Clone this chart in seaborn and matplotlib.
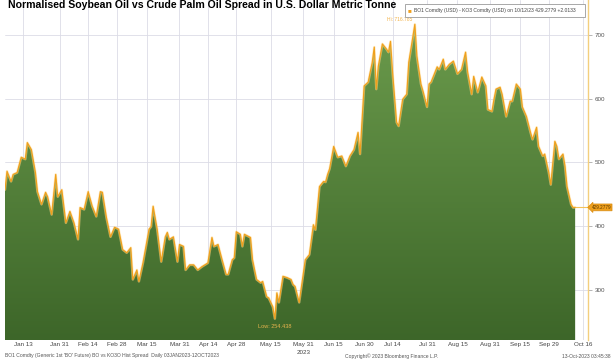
import numpy as np
import pandas as pd
import matplotlib
matplotlib.use("Agg")
import matplotlib.pyplot as plt
import matplotlib.dates as mdates
from matplotlib.colors import LinearSegmentedColormap
from matplotlib.patches import Rectangle
import seaborn as sns

# ---------------- data ----------------
dates = ["2023-01-04", "2023-01-05", "2023-01-07", "2023-01-08", "2023-01-10", "2023-01-12",
         "2023-01-14", "2023-01-15", "2023-01-17", "2023-01-19", "2023-01-20", "2023-01-22",
         "2023-01-24", "2023-01-25", "2023-01-27", "2023-01-29", "2023-01-30", "2023-02-01",
         "2023-02-03", "2023-02-05", "2023-02-07", "2023-02-09", "2023-02-10", "2023-02-12",
         "2023-02-14", "2023-02-16", "2023-02-18", "2023-02-20", "2023-02-21", "2023-02-23",
         "2023-02-25", "2023-02-27", "2023-03-01", "2023-03-03", "2023-03-05", "2023-03-07",
         "2023-03-08", "2023-03-10", "2023-03-11", "2023-03-13", "2023-03-16", "2023-03-17",
         "2023-03-18", "2023-03-20", "2023-03-22", "2023-03-24", "2023-03-25", "2023-03-26",
         "2023-03-28", "2023-03-30", "2023-03-31", "2023-04-02", "2023-04-03", "2023-04-05",
         "2023-04-07", "2023-04-09", "2023-04-11", "2023-04-14", "2023-04-16", "2023-04-17",
         "2023-04-19", "2023-04-21", "2023-04-23", "2023-04-24", "2023-04-26", "2023-04-27",
         "2023-04-28", "2023-04-30", "2023-05-01", "2023-05-02", "2023-05-05", "2023-05-06",
         "2023-05-08", "2023-05-10", "2023-05-11", "2023-05-13", "2023-05-14", "2023-05-16",
         "2023-05-17", "2023-05-18", "2023-05-19", "2023-05-21", "2023-05-23", "2023-05-25",
         "2023-05-26", "2023-05-27", "2023-05-29", "2023-05-31", "2023-06-01", "2023-06-03",
         "2023-06-05", "2023-06-06", "2023-06-08", "2023-06-10", "2023-06-11", "2023-06-12",
         "2023-06-13", "2023-06-15", "2023-06-17", "2023-06-19", "2023-06-21", "2023-06-23",
         "2023-06-25", "2023-06-27", "2023-06-28", "2023-06-29", "2023-06-30", "2023-07-02",
         "2023-07-04", "2023-07-05", "2023-07-06", "2023-07-07", "2023-07-09", "2023-07-11",
         "2023-07-12", "2023-07-13", "2023-07-14", "2023-07-16", "2023-07-17", "2023-07-19",
         "2023-07-21", "2023-07-22", "2023-07-25", "2023-07-26", "2023-07-28", "2023-07-29",
         "2023-07-31", "2023-08-01", "2023-08-02", "2023-08-04", "2023-08-05", "2023-08-06",
         "2023-08-08", "2023-08-09", "2023-08-11", "2023-08-13", "2023-08-15", "2023-08-17",
         "2023-08-19", "2023-08-20", "2023-08-22", "2023-08-23", "2023-08-25", "2023-08-27",
         "2023-08-29", "2023-08-30", "2023-09-01", "2023-09-02", "2023-09-03", "2023-09-05",
         "2023-09-06", "2023-09-08", "2023-09-10", "2023-09-11", "2023-09-13", "2023-09-15",
         "2023-09-16", "2023-09-18", "2023-09-20", "2023-09-21", "2023-09-23", "2023-09-24",
         "2023-09-26", "2023-09-27", "2023-09-29", "2023-09-30", "2023-10-02", "2023-10-03",
         "2023-10-04", "2023-10-06", "2023-10-07", "2023-10-08", "2023-10-10", "2023-10-11",
         "2023-10-12"]
spread = [457, 486, 470, 481, 484, 508,
          505, 531, 520, 484, 454, 434,
          453, 446, 418, 481, 446, 457,
          405, 423, 405, 379, 429, 426,
          454, 431, 415, 454, 453, 413,
          383, 398, 395, 363, 358, 366,
          316, 331, 313, 342, 395, 399,
          431, 395, 344, 383, 390, 379,
          383, 344, 371, 368, 331, 339,
          339, 331, 336, 342, 382, 368,
          371, 347, 324, 324, 347, 350,
          391, 387, 368, 387, 382, 347,
          316, 311, 313, 289, 287, 273,
          254.438, 295, 280, 321, 319, 316,
          308, 305, 280, 324, 347, 355,
          402, 394, 462, 470, 469, 481,
          490, 525, 508, 510, 494, 510,
          520, 547, 513, 568, 620, 626,
          657, 681, 615, 651, 686, 678,
          673, 690, 642, 563, 557, 599,
          607, 657, 716.785, 667, 623, 612,
          587, 623, 626, 642, 650, 646,
          662, 646, 654, 659, 639, 646,
          673, 642, 607, 635, 610, 634,
          620, 583, 580, 599, 615, 618,
          607, 572, 596, 596, 623, 615,
          587, 572, 547, 536, 555, 525,
          510, 513, 484, 465, 533, 525,
          505, 513, 494, 462, 434, 429,
          429.2779]
tick_dates = ["2023-01-13", "2023-01-31", "2023-02-14", "2023-02-28", "2023-03-15",
              "2023-03-31", "2023-04-14", "2023-04-28", "2023-05-15", "2023-05-31",
              "2023-06-15", "2023-06-30", "2023-07-14", "2023-07-31", "2023-08-15",
              "2023-08-31", "2023-09-15", "2023-09-29", "2023-10-16"]
tick_labels = ["Jan 13", "Jan 31", "Feb 14", "Feb 28", "Mar 15", "Mar 31", "Apr 14",
               "Apr 28", "May 15", "May 31", "Jun 15", "Jun 30", "Jul 14", "Jul 31",
               "Aug 15", "Aug 31", "Sep 15", "Sep 29", "Oct 16"]
y_ticks = [300, 400, 500, 600, 700]
last_value = 429.2779
hi_value = 716.785
low_value = 254.438

title = "Normalised Soybean Oil vs Crude Palm Oil Spread in U.S. Dollar Metric Tonne"
legend_text = "BO1 Comdty (USD) - KO3 Comdty (USD) on 10/12/23 429.2779 +2.0133"

df = pd.DataFrame({"date": pd.to_datetime(dates), "spread": spread})

# ---------------- style ----------------
sns.set_style("white")
plt.rcParams['font.family'] = ['Liberation Sans', 'DejaVu Sans']

fig = plt.figure(figsize=(6.13, 3.6), dpi=100)
fig.patch.set_facecolor("white")
ax = fig.add_axes([5 / 613, 20 / 360, 583 / 613, 340 / 360])

x0 = pd.Timestamp("2023-01-04")
x1 = pd.Timestamp("2023-10-18 08:00")
y0, y1 = 221, 755
ax.set_xlim(x0, x1)
ax.set_ylim(y0, y1)

# gradient filled area
fill = ax.fill_between(df["date"], df["spread"], y0, facecolor="none", edgecolor="none")
cmap = LinearSegmentedColormap.from_list("g", ["#3d6629", "#6b9b4c"])
grad = np.linspace(0, 1, 256).reshape(-1, 1)
im = ax.imshow(grad, cmap=cmap, origin="lower", aspect="auto",
               extent=[mdates.date2num(x0), mdates.date2num(x1), y0, 720], zorder=2)
im.set_clip_path(fill.get_paths()[0], transform=ax.transData)
ax.set_xlim(x0, x1)
ax.set_ylim(y0, y1)

# glow + line
ax.plot(df["date"], df["spread"], color="#ffd98a", lw=1.8, alpha=0.55, zorder=3)
sns.lineplot(data=df, x="date", y="spread", color="#f0a01c", lw=0.85, ax=ax, zorder=4)

# last value horizontal line
ax.plot([df["date"].iloc[-1], x1], [last_value, last_value], color="#f3c25a", lw=0.8, zorder=3)

# grid
ax.set_xticks(pd.to_datetime(tick_dates))
ax.set_xticklabels(tick_labels)
ax.set_yticks(y_ticks)
ax.grid(True, color="#dcdce6", lw=0.6, zorder=0)
ax.set_axisbelow(True)
ax.set_xlabel("")
ax.set_ylabel("")

for s in ["top", "left", "bottom"]:
    ax.spines[s].set_visible(False)
ax.spines["right"].set_color("#f3cf7e")
ax.spines["right"].set_linewidth(1.0)

ax.yaxis.tick_right()
ax.tick_params(axis="y", length=3, width=0.5, color="#999999", labelsize=4.5,
               labelcolor="#555555", pad=2)
ax.tick_params(axis="x", length=0, labelsize=4.5, labelcolor="#444444", pad=1.5)

# last-value tag
ax.annotate(f"{last_value:.4f}", xy=(1.0, last_value), xycoords=("axes fraction", "data"),
            xytext=(2.5, 0), textcoords="offset points", fontsize=3.3, color="#5a3a00",
            va="center", ha="left",
            bbox=dict(boxstyle="larrow,pad=0.2", fc="#f0a01c", ec="#d88a10", lw=0.5),
            annotation_clip=False, zorder=6)

# Hi / Low labels
hi_date = df.loc[df["spread"].idxmax(), "date"]
lo_date = df.loc[df["spread"].idxmin(), "date"]
ax.annotate(f"Hi: {hi_value:.3f}", xy=(hi_date, hi_value), xytext=(-2, 1.5),
            textcoords="offset points", fontsize=3.6, color="#f2b24a",
            ha="right", va="bottom", zorder=6)
ax.text(lo_date, low_value - 8, f"Low: {low_value:.3f}", fontsize=4, color="#e8b44e",
        ha="center", va="top", zorder=6)

# legend box
fig.patches.append(Rectangle((405 / 613, 1 - 16.5 / 360), 180 / 613, 12.5 / 360,
                             transform=fig.transFigure, fc="white", ec="#9a9a9a",
                             lw=0.6, zorder=5))
fig.text(408 / 613, 1 - 10.3 / 360, "\u25a0", fontsize=4.5, color="#f0a01c",
         ha="left", va="center", zorder=6)
fig.text(414 / 613, 1 - 10.3 / 360, legend_text, fontsize=3.6, color="#444444",
         ha="left", va="center", zorder=6)

# title
fig.text(8 / 613, 1 - 0.3 / 360, title, fontsize=7.6, fontweight="bold", color="black",
         ha="left", va="top")

# year label
ax.text(pd.Timestamp("2023-05-31"), -0.028, "2023", transform=ax.get_xaxis_transform(),
        fontsize=4.5, color="#444444", ha="center", va="top")

# footer
fig.text(5 / 613, 1 - 356 / 360,
         "BO1 Comdty (Generic 1st 'BO' Future) BO vs KO3O Hist Spread  Daily 03JAN2023-12OCT2023",
         fontsize=3.6, color="#555555", ha="left", va="center")
fig.text(345 / 613, 1 - 356 / 360, "Copyright\u00a9 2023 Bloomberg Finance L.P.",
         fontsize=3.6, color="#555555", ha="left", va="center")
fig.text(610 / 613, 1 - 356 / 360, "13-Oct-2023 03:45:38",
         fontsize=3.6, color="#555555", ha="right", va="center")

fig.savefig("out.png", dpi=100)
